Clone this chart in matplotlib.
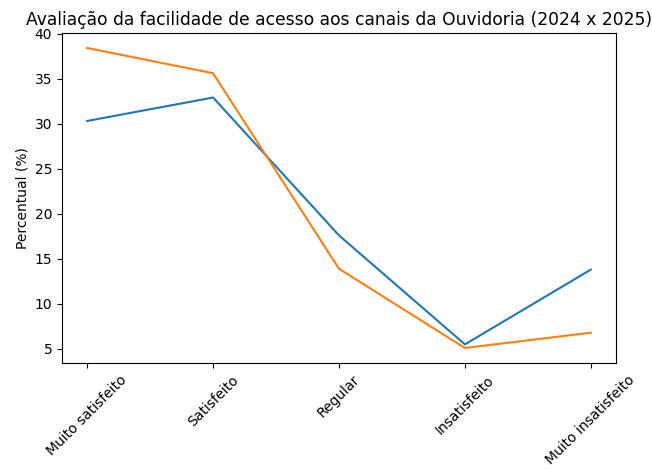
import matplotlib
matplotlib.use("Agg")
import matplotlib.pyplot as plt

categories = ["Muito satisfeito", "Satisfeito", "Regular", "Insatisfeito", "Muito insatisfeito"]
values_2024 = [30.3, 32.9, 17.6, 5.5, 13.8]
values_2025 = [38.4, 35.6, 13.9, 5.1, 6.8]

fig = plt.figure(figsize=(6.52, 4.69), dpi=100)
ax = fig.add_axes([62/652, 1 - 363/469, (616-62)/652, (363-33)/469])
ax.plot(categories, values_2024, color="#1f77b4", label="2024")
ax.plot(categories, values_2025, color="#ff7f0e", label="2025")
ax.set_title("Avaliação da facilidade de acesso aos canais da Ouvidoria (2024 x 2025)", fontsize=12.35)
ax.set_ylabel("Percentual (%)")
ax.set_xticks(range(len(categories)))
ax.set_xticklabels(categories, rotation=45)
fig.savefig("out.png", dpi=100)
